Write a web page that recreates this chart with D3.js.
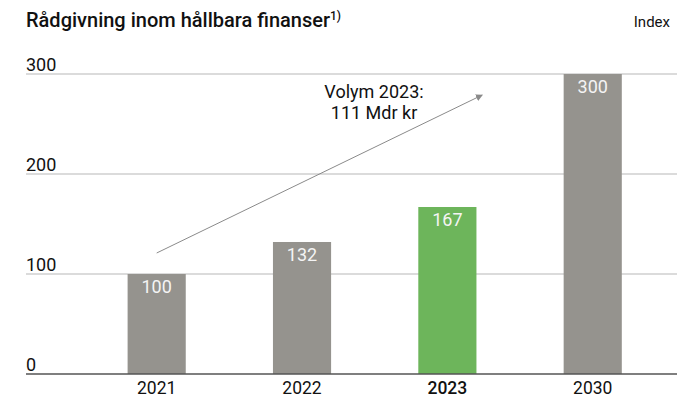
<!DOCTYPE html>
<html>
<head>
<meta charset="utf-8">
<script src="https://cdn.jsdelivr.net/npm/d3@7"></script>
<style>
  html, body { margin: 0; padding: 0; background: #fff; }
  svg { display: block; font-family: Roboto, "Noto Sans", sans-serif; }
</style>
</head>
<body>
<svg id="chart" width="677" height="399"></svg>
<script>
// Advisory volume in sustainable finance, indexed (2021 = 100)
const years = ["2021", "2022", "2023", "2030"];
const values = [100, 132, 167, 300];
const highlightYear = "2023";
const yTicks = [0, 100, 200, 300];
const titleText = "Rådgivning inom hållbara finanser";
const footnoteMark = "1)";
const unitText = "Index";
const noteLines = ["Volym 2023:", "111 Mdr kr"];
// Trend arrow endpoints in data terms: [category, value]
const arrowFrom = ["2021", 121];
const arrowTo = ["2030", 279];

const svg = d3.select("#chart");
const plot = { left: 26, right: 677, top: 74, bottom: 374 };

const x = d3.scaleBand()
  .domain(years)
  .range([84, 665.4])
  .paddingInner(0.6)
  .paddingOuter(0.3);

const y = d3.scaleLinear()
  .domain([0, 300])
  .range([plot.bottom, plot.top]);

// Title and unit
const title = svg.append("text")
  .attr("x", 26).attr("y", 27)
  .attr("font-size", 20).attr("font-weight", 500)
  .attr("fill", "#111");
title.append("tspan").text(titleText);
title.append("tspan").text(footnoteMark)
  .attr("font-size", 12).attr("dy", -7);

svg.append("text")
  .attr("x", 670).attr("y", 27)
  .attr("text-anchor", "end")
  .attr("font-size", 15)
  .attr("fill", "#111")
  .text(unitText);

// Gridlines and tick labels (labels sit above each line, left aligned)
const grid = svg.append("g");
grid.selectAll("line")
  .data(yTicks.filter(d => d > 0))
  .join("line")
  .attr("x1", plot.left).attr("x2", plot.right)
  .attr("y1", d => y(d)).attr("y2", d => y(d))
  .attr("stroke", "#b8b8b8").attr("stroke-width", 1.2);

grid.selectAll("text")
  .data(yTicks)
  .join("text")
  .attr("x", plot.left)
  .attr("y", d => y(d) - 3)
  .attr("font-size", 18)
  .attr("fill", "#111")
  .text(d => d);

// Bars
const rows = years.map((k, i) => ({ k, v: values[i] }));
svg.append("g").selectAll("rect")
  .data(rows)
  .join("rect")
  .attr("x", d => x(d.k))
  .attr("width", x.bandwidth())
  .attr("y", d => y(d.v))
  .attr("height", d => y(0) - y(d.v))
  .attr("fill", d => d.k === highlightYear ? "#6db55b" : "#95938e");

// Value labels inside bar tops
svg.append("g").selectAll("text")
  .data(rows)
  .join("text")
  .attr("x", d => x(d.k) + x.bandwidth() / 2)
  .attr("y", d => y(d.v) + 19)
  .attr("text-anchor", "middle")
  .attr("font-size", 18)
  .attr("fill", "#f4f4f4")
  .text(d => d.v);

// Baseline
svg.append("line")
  .attr("x1", plot.left).attr("x2", plot.right)
  .attr("y1", y(0)).attr("y2", y(0))
  .attr("stroke", "#555").attr("stroke-width", 1.5);

// Category axis labels
svg.append("g").selectAll("text")
  .data(years)
  .join("text")
  .attr("x", d => x(d) + x.bandwidth() / 2)
  .attr("y", 394)
  .attr("text-anchor", "middle")
  .attr("font-size", 17.5)
  .attr("font-weight", d => d === highlightYear ? 500 : 400)
  .attr("fill", "#111")
  .text(d => d);

// Trend arrow
svg.append("defs").append("marker")
  .attr("id", "arrowhead")
  .attr("viewBox", "0 0 10 10")
  .attr("refX", 9).attr("refY", 5)
  .attr("markerWidth", 7).attr("markerHeight", 7)
  .attr("markerUnits", "userSpaceOnUse")
  .attr("orient", "auto")
  .append("path")
  .attr("d", "M0,0 L10,5 L0,10 Z")
  .attr("fill", "#8a8a8a");

const ax1 = x(arrowFrom[0]) + x.bandwidth() / 2;
const ax2 = x(arrowTo[0]) - x.bandwidth() * 1.4;
svg.append("line")
  .attr("x1", ax1).attr("y1", y(arrowFrom[1]))
  .attr("x2", ax2).attr("y2", y(arrowTo[1]))
  .attr("stroke", "#8a8a8a").attr("stroke-width", 1)
  .attr("marker-end", "url(#arrowhead)");

// Annotation
const note = svg.append("text")
  .attr("x", 374).attr("y", 98)
  .attr("text-anchor", "middle")
  .attr("font-size", 18)
  .attr("fill", "#111");
noteLines.forEach((t, i) => {
  note.append("tspan").attr("x", 374).attr("dy", i === 0 ? 0 : 21).text(t);
});
</script>
</body>
</html>
